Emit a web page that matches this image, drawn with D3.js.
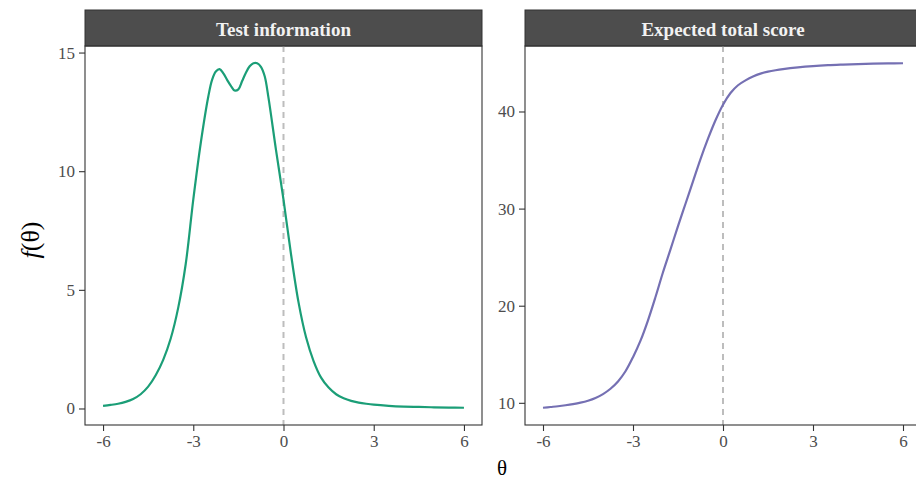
<!DOCTYPE html>
<html>
<head>
<meta charset="utf-8">
<script src="https://cdn.jsdelivr.net/npm/d3@7/dist/d3.min.js"></script>
<style>
html,body{margin:0;padding:0;background:#fff;overflow:hidden;}
svg{display:block;}
</style>
</head>
<body>
<svg id="chart" width="916" height="479"></svg>
<script>
// ---- data ----
const theta = [-6,-5.75,-5.5,-5.25,-5,-4.75,-4.5,-4.25,-4,-3.75,-3.5,-3.25,-3,-2.75,-2.5,-2.375,-2.25,-2.125,-2,-1.875,-1.75,-1.625,-1.5,-1.375,-1.25,-1.125,-1,-0.875,-0.75,-0.625,-0.5,-0.25,0,0.25,0.5,0.75,1,1.25,1.5,1.75,2,2.25,2.5,2.75,3,3.5,4,4.5,5,5.5,6];
const testInfo = [0.11,0.15,0.2,0.28,0.4,0.6,0.92,1.4,2.05,2.95,4.25,6.1,8.8,11.2,13.15,13.85,14.2,14.3,14.12,13.85,13.6,13.4,13.45,13.8,14.15,14.42,14.55,14.55,14.4,14.0,13.1,10.9,8.8,6.5,4.47,3.0,2.0,1.3,0.88,0.6,0.43,0.32,0.25,0.2,0.16,0.11,0.08,0.065,0.05,0.04,0.03];
const thetaScore = [-6,-5.75,-5.5,-5.25,-5,-4.75,-4.5,-4.25,-4,-3.75,-3.5,-3.25,-3,-2.75,-2.5,-2.25,-2,-1.75,-1.5,-1.25,-1,-0.75,-0.5,-0.25,0,0.25,0.5,0.75,1,1.25,1.5,1.75,2,2.5,3,3.5,4,4.5,5,5.5,6];
const expectedScore = [9.49,9.57,9.65,9.75,9.87,10.02,10.22,10.5,10.9,11.45,12.2,13.25,14.7,16.4,18.5,20.9,23.45,25.8,28.2,30.5,32.8,35.1,37.2,39.1,40.7,41.9,42.7,43.2,43.6,43.9,44.1,44.25,44.37,44.55,44.68,44.77,44.83,44.88,44.92,44.95,44.97];
const panelTitles = ["Test information", "Expected total score"];
const xTicks = [-6,-3,0,3,6];
const yTicksInfo = [0,5,10,15];
const yTicksScore = [10,20,30,40];
const vlineAt = 0;

// ---- layout ----
const svg = d3.select("#chart");
const FONT = "'Liberation Serif','Times New Roman',serif";
const panels = [
  {x0:85, x1:482, xs:theta, ys:testInfo, ticks:yTicksInfo, color:"#1b9e77", title:panelTitles[0]},
  {x0:525, x1:921, xs:thetaScore, ys:expectedScore, ticks:yTicksScore, color:"#7570b3", title:panelTitles[1]}
];
const pTop = 46, pBot = 425, stripTop = 10;

panels.forEach(p => {
  const xr = d3.extent(p.xs), xpad = (xr[1]-xr[0])*0.05;
  const x = d3.scaleLinear().domain([xr[0]-xpad, xr[1]+xpad]).range([p.x0, p.x1]);
  const yr = d3.extent(p.ys), ypad = (yr[1]-yr[0])*0.05;
  const y = d3.scaleLinear().domain([yr[0]-ypad, yr[1]+ypad]).range([pBot, pTop]);
  const g = svg.append("g");

  // strip
  g.append("rect").attr("x", p.x0).attr("y", stripTop).attr("width", p.x1-p.x0).attr("height", pTop-stripTop)
    .attr("fill", "#4d4d4d").attr("stroke", "#333").attr("stroke-width", 1);
  g.append("text").attr("x", (p.x0+p.x1)/2).attr("y", (stripTop+pTop)/2+1)
    .attr("text-anchor","middle").attr("dominant-baseline","central")
    .attr("fill","#f2f2f2").attr("font-family",FONT).attr("font-weight","bold").attr("font-size",19)
    .text(p.title);

  // dashed vline
  g.append("line").attr("x1", x(vlineAt)).attr("x2", x(vlineAt)).attr("y1", pTop).attr("y2", pBot)
    .attr("stroke","#bdbdbd").attr("stroke-width",2).attr("stroke-dasharray","6,5");

  // curve
  const line = d3.line().x((d,i)=>x(p.xs[i])).y(d=>y(d)).curve(d3.curveCatmullRom.alpha(0.5));
  g.append("path").attr("d", line(p.ys)).attr("fill","none").attr("stroke",p.color).attr("stroke-width",2.2);

  // panel border
  g.append("rect").attr("x", p.x0).attr("y", pTop).attr("width", p.x1-p.x0).attr("height", pBot-pTop)
    .attr("fill","none").attr("stroke","#333").attr("stroke-width",1.1);

  // axes
  const xa = g.append("g").attr("transform",`translate(0,${pBot})`)
    .call(d3.axisBottom(x).tickValues(xTicks).tickSize(6).tickPadding(4).tickFormat(d3.format("d")));
  const ya = g.append("g").attr("transform",`translate(${p.x0},0)`)
    .call(d3.axisLeft(y).tickValues(p.ticks).tickSize(6).tickPadding(4).tickFormat(d3.format("d")));
  [xa, ya].forEach(a => {
    a.select(".domain").remove();
    a.selectAll(".tick line").attr("stroke","#333").attr("stroke-width",1.1);
    a.selectAll(".tick text").attr("fill","#4d4d4d").attr("font-family",FONT).attr("font-size",17);
  });
  xa.selectAll(".tick text").text(d => d < 0 ? "-" + Math.abs(d) : String(d));
});

// axis titles
svg.append("text").attr("x", 502).attr("y", 475).attr("text-anchor","middle")
  .attr("font-family",FONT).attr("font-size",21).attr("fill","#000").text("θ");
const yl = svg.append("text").attr("transform","translate(30,240) rotate(-90)").attr("text-anchor","middle")
  .attr("dominant-baseline","central")
  .attr("font-family",FONT).attr("font-size",26).attr("fill","#000");
yl.append("tspan").attr("font-style","italic").text("f");
yl.append("tspan").text("(θ)");
</script>
</body>
</html>
